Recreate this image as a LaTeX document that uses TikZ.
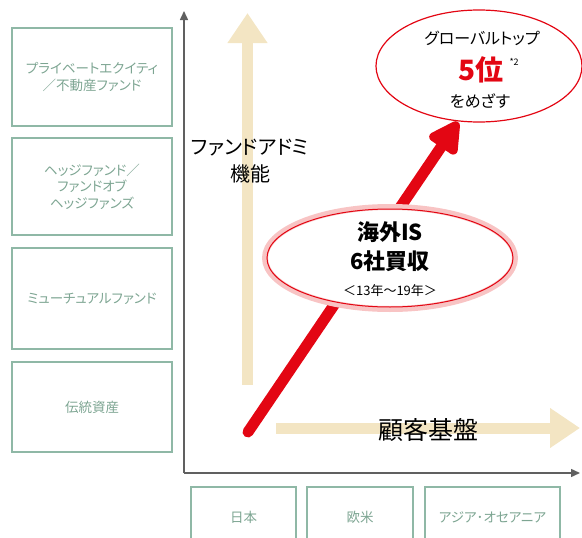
\documentclass[tikz,border=0pt]{standalone}
\usepackage{fontspec}
\setmainfont{Noto Sans CJK JP}[RawFeature=+palt]
\newfontfamily\jp{Noto Sans CJK JP}[RawFeature=+palt]
\usetikzlibrary{arrows.meta,shapes.geometric}
\definecolor{boxg}{HTML}{8FB8A6}
\definecolor{txtg}{HTML}{7DA592}
\definecolor{beige}{HTML}{F3E5C3}
\definecolor{myred}{HTML}{E30613}
\definecolor{pinkglow}{HTML}{F8C4C4}
\definecolor{axisg}{HTML}{606060}
\tikzset{
  catbox/.style={draw=boxg,line width=1.2pt,minimum width=160pt,text=txtg,font=\jp\fontsize{13.5}{16.5}\selectfont,align=center,inner sep=0pt},
  regbox/.style={draw=boxg,line width=1.2pt,text=txtg,font=\jp\fontsize{13.5}{16.5}\selectfont,align=center,inner sep=0pt},
  axisline/.style={draw=axisg,line width=1.5pt,-{Triangle[length=9pt,width=8pt]}},
  beigearrow/.style={draw=beige,line width=11pt,-{Triangle[length=30pt,width=38pt]}},
}
\begin{document}
\begin{tikzpicture}[x=1pt,y=-1pt]
\useasboundingbox (0,0) rectangle (582,538);
% left category boxes
\node[catbox,minimum height=98pt] (pe) at (92,77) {プライベートエクイティ\\／不動産ファンド};
\node[catbox,minimum height=97pt] (hf) at (92,186.5) {ヘッジファンド／\\ファンドオブ\\ヘッジファンズ};
\node[catbox,minimum height=101pt] (mf) at (92,298.5) {ミューチュアルファンド};
\node[catbox,minimum height=90pt] (ta) at (92,407) {伝統資産};
% bottom region boxes
\node[regbox,minimum width=105pt,minimum height=60pt] (jp) at (243.5,517) {日本};
\node[regbox,minimum width=106pt,minimum height=60pt] (eu) at (360,517) {欧米};
\node[regbox,minimum width=135pt,minimum height=60pt] (as) at (492.5,517) {アジア･オセアニア};
% axes
\coordinate (o) at (184,473);
\coordinate (ytop) at (184,11);
\coordinate (xend) at (580,473);
\draw[axisline] (o) -- (ytop);
\draw[axisline] (o) -- (xend);
% beige arrows
\coordinate (vs) at (247.5,385);
\coordinate (ve) at (247.5,13);
\coordinate (hs) at (276,428);
\coordinate (he) at (580,428);
\draw[beigearrow] (vs) -- (ve);
\draw[beigearrow] (hs) -- (he);
% labels
\node[font=\jp\fontsize{20}{27}\selectfont,align=center] (fa) at (250,161) {ファンドアドミ\\機能};
\node[font=\jp\fontsize{25}{28}\selectfont] (kk) at (428,430) {顧客基盤};
% red arrow
\coordinate (rs) at (248,432);
\coordinate (re) at (458,122);
\draw[myred,line width=11pt,line cap=round,-{Triangle[length=36pt,width=36pt,round=false]}] (rs) -- (re);
% middle ellipse
\node[ellipse,draw=pinkglow,line width=6pt,minimum width=250pt,minimum height=102pt,fill=white] (mid) at (390,258) {};
\node[ellipse,draw=myred,line width=1pt,minimum width=246pt,minimum height=98pt] (midin) at (390,258) {};
\node[font=\jp\bfseries\fontsize{22}{29}\selectfont,align=center] (midt) at (390,247) {海外IS\\6社買収};
\node[font=\jp\fontsize{13}{15}\selectfont] (midy) at (390,291) {＜13年～19年＞};
% top ellipse
\node[ellipse,draw=myred,line width=1.2pt,minimum width=206pt,minimum height=112pt] (top) at (479,66) {};
\node[font=\jp\fontsize{16}{18}\selectfont] (gt) at (482,38) {グローバルトップ};
\node[font=\jp\bfseries\fontsize{28}{30}\selectfont,text=myred] (five) at (481,70) {5位};
\node[font=\jp\fontsize{9}{10}\selectfont,anchor=west] (note) at (506,62) {*2};
\node[font=\jp\fontsize{16}{18}\selectfont] (mz) at (480,101) {をめざす};
\end{tikzpicture}
\end{document}
